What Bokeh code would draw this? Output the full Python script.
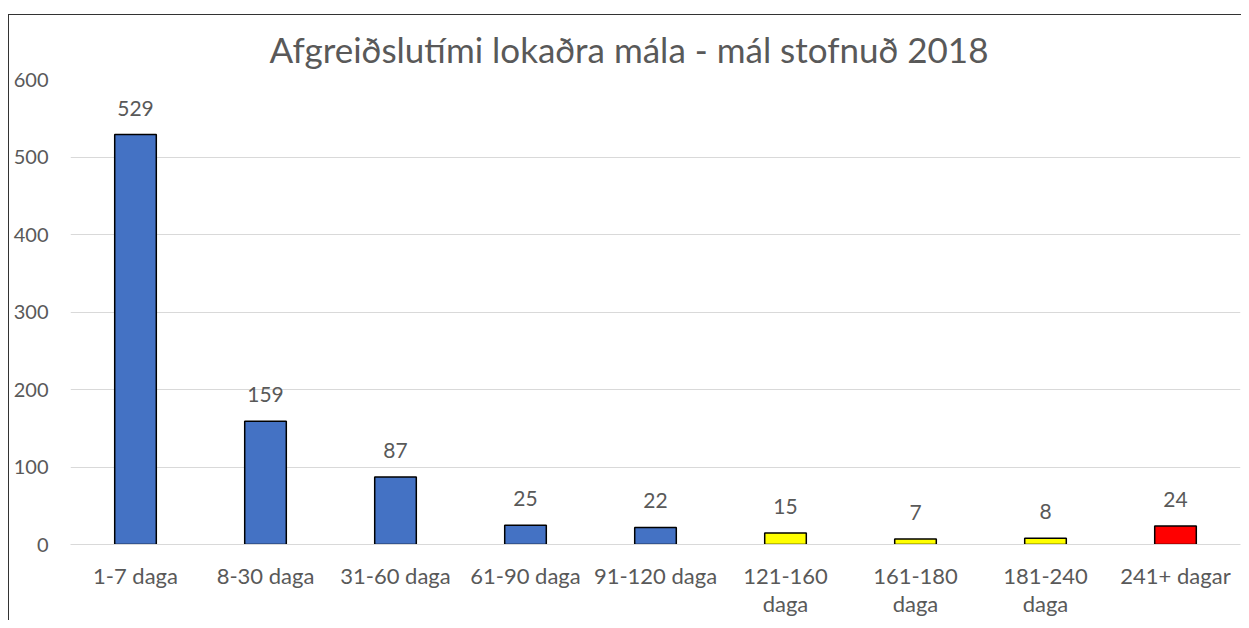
from bokeh.plotting import figure
from bokeh.models import ColumnDataSource, LabelSet, FixedTicker, Div, Spacer
from bokeh.layouts import row, column
from bokeh.embed import file_html
from bokeh.resources import INLINE
from bokeh.core.properties import value

categories = ["1-7 daga", "8-30 daga", "31-60 daga", "61-90 daga", "91-120 daga",
              "121-160\ndaga", "161-180\ndaga", "181-240\ndaga", "241+ dagar"]
counts = [529, 159, 87, 25, 22, 15, 7, 8, 24]
colors = ["#4472C4", "#4472C4", "#4472C4", "#4472C4", "#4472C4",
          "#FFFF00", "#FFFF00", "#FFFF00", "#FF0000"]
y_ticks = [0, 100, 200, 300, 400, 500, 600]
title_text = "Afgreiðslutími lokaðra mála - mál stofnuð 2018"

FONT = "Lato"
TXT = "#595959"
EDGE = "#333333"

source = ColumnDataSource(dict(cat=categories, val=counts, col=colors,
                               lab=[str(v) for v in counts]))

p = figure(x_range=categories, y_range=(0, 600), width=1232, height=605,
           output_backend="svg", toolbar_location=None, margin=0,
           min_border_left=61, min_border_right=1, min_border_top=63, min_border_bottom=76)

p.title.text = title_text
p.title.align = "left"
p.title.offset = 199
p.title.text_font = FONT
p.title.text_font_size = "35px"
p.title.text_font_style = "normal"
p.title.text_color = TXT
p.title.standoff = 20

p.vbar(x="cat", top="val", width=0.32, source=source, fill_color="col",
       line_color="#000000", line_width=1.5)

labels = LabelSet(x="cat", y="val", text="lab", source=source, text_align="center",
                  text_baseline="alphabetic", y_offset=19, text_font=value(FONT),
                  text_font_size="21px", text_color=TXT)
p.add_layout(labels)

p.outline_line_color = None
p.background_fill_color = "white"
p.border_fill_color = "white"

p.xgrid.grid_line_color = None
p.ygrid.grid_line_color = "#D9D9D9"
p.ygrid.grid_line_width = 1

p.yaxis.ticker = FixedTicker(ticks=y_ticks)
p.yaxis.axis_line_color = None
p.yaxis.major_tick_line_color = None
p.yaxis.minor_tick_line_color = None
p.yaxis.major_tick_out = 0
p.yaxis.major_tick_in = 0
p.yaxis.major_label_text_font = FONT
p.yaxis.major_label_text_font_size = "20px"
p.yaxis.major_label_text_color = TXT
p.yaxis.major_label_standoff = 22

p.xaxis.axis_line_color = "#D9D9D9"
p.xaxis.major_tick_line_color = None
p.xaxis.minor_tick_line_color = None
p.xaxis.major_label_text_font = FONT
p.xaxis.major_label_text_font_size = "22px"
p.xaxis.major_label_text_color = TXT
p.xaxis.major_label_text_line_height = 1.06
p.xaxis.major_label_standoff = 11

# chart-area border: top and left edges (as in the reference screenshot)
top_line = Div(text="", width=1233, height=1, margin=0,
               styles={"background-color": EDGE})
left_line = Div(text="", width=1, height=605, margin=0,
                styles={"background-color": EDGE})

layout = row(
    Spacer(width=8, height=620, margin=0),
    column(
        Spacer(width=1233, height=14, margin=0),
        top_line,
        row(left_line, p, spacing=0, margin=0),
        spacing=0, margin=0,
    ),
    spacing=0, margin=0,
)

open("out.html", "w").write(file_html(layout, INLINE))
